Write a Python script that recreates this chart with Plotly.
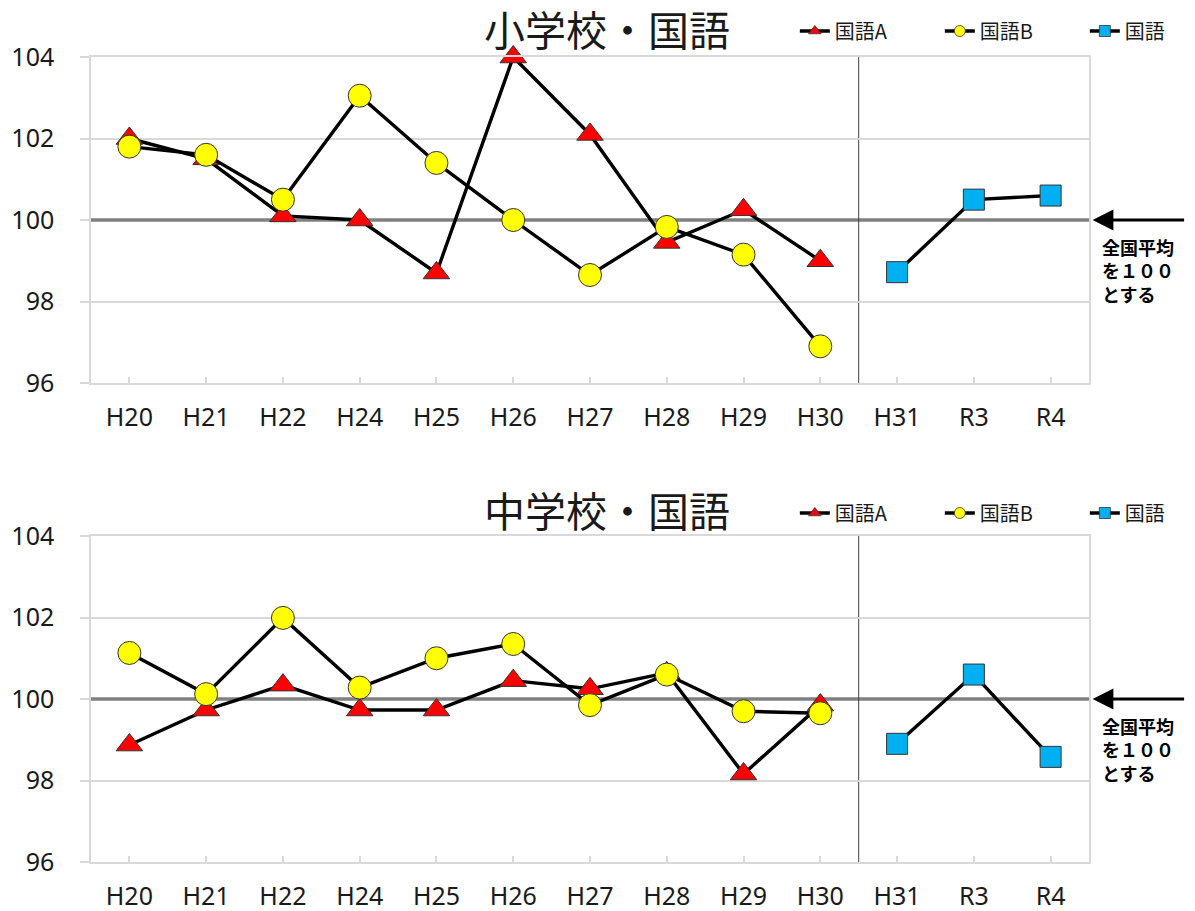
import plotly.graph_objects as go

categories = ["H20", "H21", "H22", "H24", "H25", "H26", "H27", "H28", "H29", "H30", "H31", "R3", "R4"]
old_years = categories[:10]
new_years = categories[10:]

# 小学校・国語
elem_a = [102.0, 101.5, 100.1, 100.0, 98.7, 104.0, 102.1, 99.45, 100.25, 99.0]
elem_b = [101.8, 101.6, 100.5, 103.05, 101.4, 100.0, 98.65, 99.83, 99.15, 96.9]
elem_k = [98.72, 100.5, 100.6]

# 中学校・国語
jhs_a = [98.87, 99.73, 100.34, 99.73, 99.73, 100.45, 100.25, 100.64, 98.16, 99.85]
jhs_b = [101.13, 100.12, 101.99, 100.28, 101.0, 101.35, 99.85, 100.6, 99.7, 99.65]
jhs_k = [98.9, 100.6, 98.58]

y_ticks = [96, 98, 100, 102, 104]
national_avg = 100
titles = ["小学校・国語", "中学校・国語"]
legend_names = ["国語A", "国語B", "国語"]
note_text = "全国平均<br>を１００<br>とする"

LAT = "Noto Sans, DejaVu Sans, Noto Sans CJK JP, sans-serif"
JP = "Noto Sans CJK JP, sans-serif"
GRID = "#d9d9d9"

# the page places the figure 8px in from the top-left corner
PAGE_OFF = 8
W, H = 1195 - PAGE_OFF, 911 - PAGE_OFF
ML = 90.6 - PAGE_OFF
MR = W - (1089.4 - PAGE_OFF)
MT = 57 - PAGE_OFF
MB = H - (862 - PAGE_OFF)
PW, PH = W - ML - MR, H - MT - MB


def px_x(page_px):
    return (page_px - PAGE_OFF - ML) / PW


def px_y(page_py):
    return (H - MB - (page_py - PAGE_OFF)) / PH


styles = [
    dict(symbol="triangle-up", color="#ff0000", size=23),
    dict(symbol="circle", color="#ffff00", size=23),
    dict(symbol="square", color="#00b0f0", size=21),
]

fig = go.Figure()

panels = [
    (elem_a, elem_b, elem_k, "x", "y", "legend"),
    (jhs_a, jhs_b, jhs_k, "x2", "y2", "legend2"),
]

for a, b, k, xa, ya, lg in panels:
    series = [(old_years, a), (old_years, b), (new_years, k)]
    for (xs, ys), st, nm in zip(series, styles, legend_names):
        fig.add_trace(go.Scatter(
            x=xs, y=ys, xaxis=xa, yaxis=ya, mode="lines+markers",
            line=dict(color="black", width=3.4),
            marker=dict(symbol=st["symbol"], color=st["color"], size=st["size"],
                        line=dict(color="#333333", width=1)),
            showlegend=False, name=nm, cliponaxis=False,
        ))
    for st, nm in zip(styles, legend_names):
        fig.add_trace(go.Scatter(
            x=[None], y=[None], xaxis=xa, yaxis=ya, mode="lines+markers",
            line=dict(color="black", width=3.4),
            marker=dict(symbol=st["symbol"], color=st["color"], size=11,
                        line=dict(color="#333333", width=0.8)),
            name=nm, showlegend=True, legend=lg,
        ))

axis_common_x = dict(
    type="category", categoryorder="array", categoryarray=categories,
    range=[-0.5, len(categories) - 0.5], showgrid=False,
    showline=True, linecolor=GRID, linewidth=1.5, mirror=True,
    ticks="inside", ticklen=6, tickcolor=GRID, tickwidth=1.5,
    tickfont=dict(family=LAT, size=25, color="#1a1a1a"),
    ticklabelstandoff=11, zeroline=False, fixedrange=True,
)
grid_vals = [v for v in y_ticks if v != national_avg]
axis_common_y = dict(
    range=[y_ticks[0], y_ticks[-1]], tickvals=y_ticks, showgrid=False,
    minor=dict(tickvals=grid_vals, showgrid=True, gridcolor=GRID, gridwidth=1.5, ticks=""),
    showline=True, linecolor=GRID, linewidth=1.5, mirror=True,
    ticks="outside", ticklen=9, tickcolor=GRID, tickwidth=1.5,
    tickfont=dict(family=LAT, size=25, color="#1a1a1a"),
    ticklabelstandoff=21, zeroline=False, fixedrange=True,
)

legend_common = dict(orientation="h", xanchor="left", yanchor="middle",
                     font=dict(family=JP, size=20, color="#1a1a1a"),
                     entrywidth=100, bgcolor="rgba(0,0,0,0)", itemclick=False)

fig.update_layout(
    width=W, height=H,
    margin=dict(l=ML, r=MR, t=MT, b=MB, autoexpand=False),
    paper_bgcolor="white", plot_bgcolor="white",
    font=dict(family=LAT, color="#1a1a1a"),
    xaxis=dict(domain=[0, 1], anchor="y", **axis_common_x),
    yaxis=dict(domain=[px_y(383), 1.0], anchor="x", **axis_common_y),
    xaxis2=dict(domain=[0, 1], anchor="y2", **axis_common_x),
    yaxis2=dict(domain=[0.0, px_y(536)], anchor="x2", **axis_common_y),
    legend=dict(x=px_x(795), y=px_y(31), **legend_common),
    legend2=dict(x=px_x(795), y=px_y(513), **legend_common),
)

offsets = [0, 481]
for i, (xa, ya) in enumerate([("x", "y"), ("x2", "y2")]):
    off = offsets[i]
    # national average reference line
    fig.add_shape(type="line", xref=xa + " domain", yref=ya, x0=0, x1=1,
                  y0=national_avg, y1=national_avg,
                  line=dict(color="#808080", width=3.5), layer="below")
    # separator between H30 and H31
    fig.add_shape(type="line", xref=xa, yref=ya + " domain", x0=9.5, x1=9.5, y0=0, y1=1,
                  line=dict(color="#404040", width=1), layer="below")
    fig.add_annotation(text=titles[i], xref="paper", yref="paper", x=px_x(607),
                       y=px_y(28 + off), xanchor="center", yanchor="middle", showarrow=False,
                       font=dict(family=JP, size=41, color="#1a1a1a"))
    fig.add_annotation(text="", xref="paper", yref=ya, x=px_x(1093), y=national_avg,
                       ax=93, ay=0, axref="pixel", ayref="pixel",
                       showarrow=True, arrowhead=2, arrowsize=1.3, arrowwidth=3.2,
                       arrowcolor="black")
    fig.add_annotation(text="<b>" + note_text + "</b>", xref="paper", yref="paper",
                       x=px_x(1100), y=px_y(232 + off - 2 * i), xanchor="left",
                       yanchor="top", align="left", showarrow=False,
                       font=dict(family=JP, size=18, color="black"))

fig.write_html("out.html")
